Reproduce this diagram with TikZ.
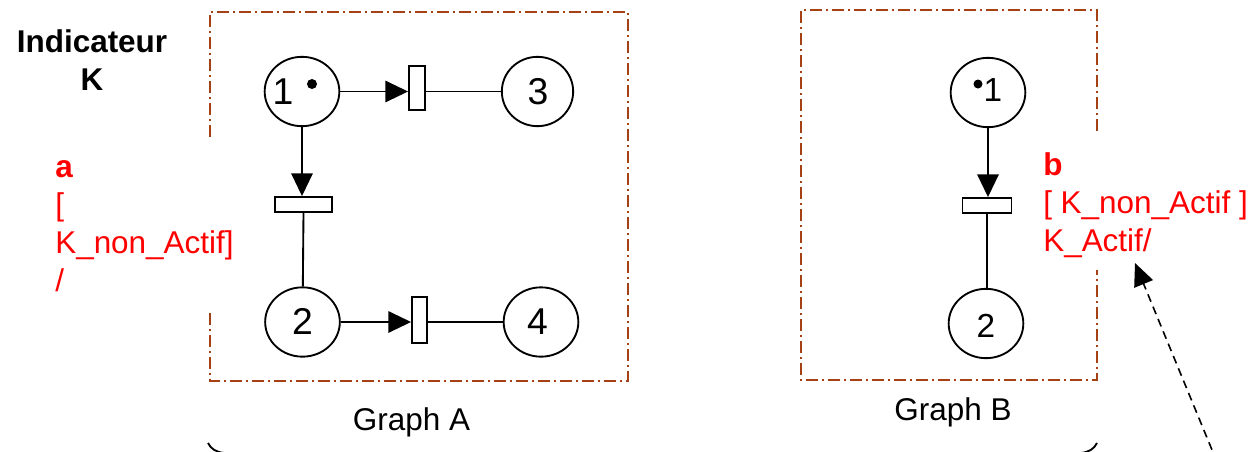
\documentclass[tikz,border=0pt]{standalone}
\usepackage{fontspec}
\setmainfont{Liberation Sans}
\usetikzlibrary{shapes.geometric,arrows.meta}
\definecolor{framebrown}{RGB}{165,65,20}
\definecolor{labelred}{RGB}{255,0,0}
\begin{document}
\begin{tikzpicture}[x=0.75pt,y=-0.75pt,
  place/.style={draw,ellipse,line width=1.4pt,inner sep=0pt,minimum width=56pt,minimum height=52pt},
  trans/.style={draw,rectangle,fill=white,line width=1.4pt,inner sep=0pt},
  arc/.style={line width=1.4pt,-{Triangle[length=17pt,width=16pt]}},
  link/.style={line width=1.4pt},
  frame/.style={draw=framebrown,line width=1.4pt,dash pattern=on 9pt off 3pt on 1.5pt off 3pt},
  numA/.style={font=\fontsize{28}{32}\selectfont,inner sep=0pt,anchor=base},
  numB/.style={font=\fontsize{25}{29}\selectfont,inner sep=0pt,anchor=base},
  txt/.style={font=\fontsize{23.6}{28.5}\selectfont,inner sep=0pt},
  cond/.style={txt,text=labelred,align=left,anchor=base west},
  token/.style={fill=black}
]
\useasboundingbox (0,0) rectangle (1258,451);
\clip (0,0) rectangle (1258,451);

% ---- frames (open on one side) ----
\draw[frame] (210,137) -- (210,12) -- (628,12) -- (628,381) -- (210,381) -- (210,310);
\draw[frame] (1097,131) -- (1097,10) -- (801,10) -- (801,380) -- (1097,380) -- (1097,270);

% ---- Graph A ----
\node[place] (a1) at (302,91.5) {};
\node[place,minimum width=53.5pt] (a3) at (537.5,91.5) {};
\node[place] (a2) at (302.5,322) {};
\node[place] (a4) at (541,322) {};
\node[trans,minimum width=12pt,minimum height=33pt] (ta1) at (417,88) {};
\node[trans,minimum width=42.75pt,minimum height=11.25pt] (ta2) at (303.5,204.5) {};
\node[trans,minimum width=11.25pt,minimum height=34.5pt] (ta3) at (419.5,320) {};

\node[numA] (a1n) at (283,104) {1};
\fill[token] (312,84) circle (5);
\node[numA] (a3n) at (538,104) {3};
\node[numA] (a2n) at (302.5,334) {2};
\node[numA] (a4n) at (537.5,334) {4};

\draw[arc] (a1) -- (a1 -| ta1.west);
\draw[link] (ta1.east |- a1) -- (a3);
\draw[arc] (a1) -- (a1 |- ta2.north);
\draw[link] (ta2.south) -- (a2);
\draw[arc] (a2) -- (a2 -| ta3.west);
\draw[link] (ta3.east |- a2) -- (a4);

\node[txt,anchor=base] (ga) at (411.5,430) {Graph A};

% ---- Graph B ----
\node[place] (b1) at (988,92.5) {};
\node[place] (b2) at (986,323.5) {};
\node[trans,minimum width=36.75pt,minimum height=11.25pt] (tb1) at (987,205.5) {};
\node[numB] (b1n) at (993,101) {1};
\fill[token] (978,84) circle (4.5);
\node[numB] (b2n) at (986,337) {2};

\draw[arc] (b1) -- (b1 |- tb1.north);
\draw[link] (tb1.south) -- (tb1.south |- b2.north);

\node[txt,anchor=base] (gb) at (953,420) {Graph B};

% ---- labels (base anchor sits on the last line) ----
\node[txt,align=center,anchor=base,font=\fontsize{23.6}{28.5}\selectfont\bfseries] (ind) at (92,90) {Indicateur\\K};
\node[cond] (ca) at (55,291) {\textbf{a}\\{[}\\K\_non\_Actif{]}\\/};
\node[cond] (cb) at (1043,251) {\textbf{b}\\{[} K\_non\_Actif {]}\\K\_Actif/};

% ---- pointer ----
\coordinate (src) at (1217,462);
\coordinate (tip) at (1135,263);
\draw[line width=1.2pt,dash pattern=on 6pt off 4pt,-{Triangle[length=17pt,width=15pt]}] (src) -- (tip);

% ---- brace ends below ----
\draw[link] (208,443) .. controls (211,449) and (216,452) .. (224,453) -- (1081,453) .. controls (1089,452) and (1094,449) .. (1097,443);
\end{tikzpicture}
\end{document}
